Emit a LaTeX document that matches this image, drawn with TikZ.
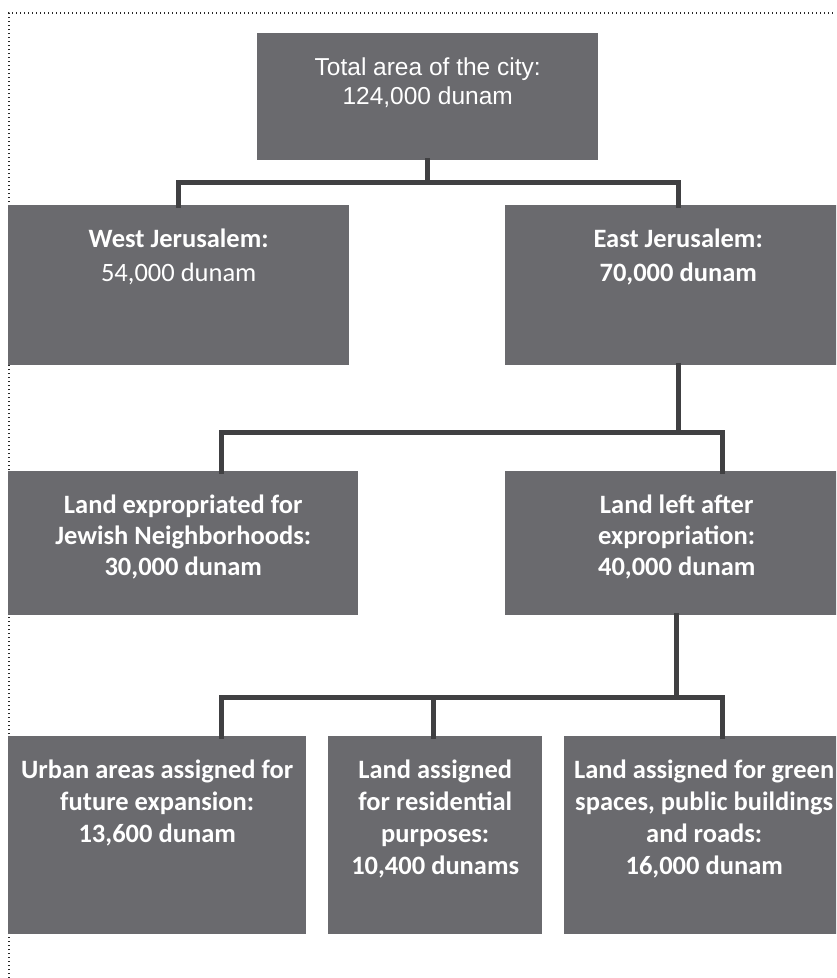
\documentclass[tikz,border=0pt]{standalone}
\usepackage{fontspec}
\setmainfont{Carlito}
\newfontfamily\arialf{Liberation Sans}
\definecolor{boxgray}{RGB}{106,106,110}
\definecolor{linegray}{RGB}{64,64,66}
\definecolor{dotgray}{RGB}{40,40,40}
\tikzset{
  greybox/.style={draw=none, fill=boxgray, rectangle, inner sep=0pt, anchor=north west},
  conn/.style={draw=linegray, line width=5pt, line join=miter, line cap=rect},
  lbl/.style={text=white, align=center, anchor=north, inner sep=0pt, font=\fontsize{26.5}{34}\selectfont},
  toplbl/.style={text=white, align=center, anchor=north, inner sep=0pt, font=\arialf\fontsize{24.5}{29}\selectfont},
  dotline/.style={draw=dotgray, line width=1.1pt, dash pattern=on 1pt off 3pt}
}
\begin{document}
\begin{tikzpicture}[x=1pt,y=-1pt]
\useasboundingbox (0,0) rectangle (836,978);
\clip (0,0) rectangle (836,978);
\fill[white] (0,0) rectangle (836,978);
% dotted frame
\coordinate (fr1) at (9,13);
\coordinate (fr2) at (836,13);
\coordinate (fr3) at (9,978);
\draw[dotline] (fr3) -- (fr1) -- (fr2);

% connector junction points
\coordinate (b1) at (427,182);
\coordinate (b2) at (427,432);
\coordinate (b3) at (427,697);
\coordinate (inLexp) at (221,471);
\coordinate (inLleft) at (722,471);
\coordinate (inUrban) at (221,736);
\coordinate (inRes) at (433,736);
\coordinate (inGreen) at (722,736);

% boxes
\node[greybox, minimum width=341pt, minimum height=127pt] (top) at (257,33) {};
\node[greybox, minimum width=341pt, minimum height=160pt] (wj) at (8,205) {};
\node[greybox, minimum width=346pt, minimum height=160pt] (ej) at (505,205) {};
\node[greybox, minimum width=350pt, minimum height=144pt] (lexp) at (8,471) {};
\node[greybox, minimum width=343pt, minimum height=144pt] (lleft) at (505,471) {};
\node[greybox, minimum width=298pt, minimum height=198pt] (urban) at (8,736) {};
\node[greybox, minimum width=214pt, minimum height=198pt] (res) at (328,736) {};
\node[greybox, minimum width=280pt, minimum height=198pt] (green) at (564,736) {};

\draw[conn] (top.south) -- (top.south |- b1);
\draw[conn] (wj.north) -- (wj.north |- b1) -- (ej.north |- b1) -- (ej.north);
\draw[conn] (ej.south) -- (ej.south |- b2);
\draw[conn] (inLexp) -- (inLexp |- b2) -- (inLleft |- b2) -- (inLleft);
\draw[conn] (lleft.south) -- (lleft.south |- b3);
\draw[conn] (inUrban) -- (inUrban |- b3) -- (inGreen |- b3) -- (inGreen);
\draw[conn] (inRes) -- (inRes |- b3);

% labels
\node[toplbl] (ttop) at ([yshift=-25pt]top.north) {Total area of the city:\\124,000 dunam};
\node[lbl] (twj) at ([yshift=-23.5pt]wj.north) {\textbf{West Jerusalem:}\\54,000 dunam};
\node[lbl] (tej) at ([yshift=-23.5pt]ej.north) {\textbf{East Jerusalem:}\\\textbf{70,000 dunam}};
\node[lbl, font=\bfseries\fontsize{26.5}{31}\selectfont] (tlexp) at ([yshift=-23.5pt]lexp.north) {Land expropriated for\\Jewish Neighborhoods:\\30,000 dunam};
\node[lbl, font=\bfseries\fontsize{26.5}{31}\selectfont] (tlleft) at ([yshift=-23.5pt]lleft.north) {Land left after\\expropriation:\\40,000 dunam};
\node[lbl, font=\bfseries\fontsize{26.5}{32}\selectfont] (turban) at ([yshift=-23.5pt]urban.north) {Urban areas assigned for\\future expansion:\\13,600 dunam};
\node[lbl, font=\bfseries\fontsize{26.5}{32}\selectfont] (tres) at ([yshift=-23.5pt]res.north) {Land assigned\\for residential\\purposes:\\10,400 dunams};
\node[lbl, font=\bfseries\fontsize{26.5}{32}\selectfont] (tgreen) at ([yshift=-23.5pt]green.north) {Land assigned for green\\spaces, public buildings\\and roads:\\16,000 dunam};
\end{tikzpicture}
\end{document}
